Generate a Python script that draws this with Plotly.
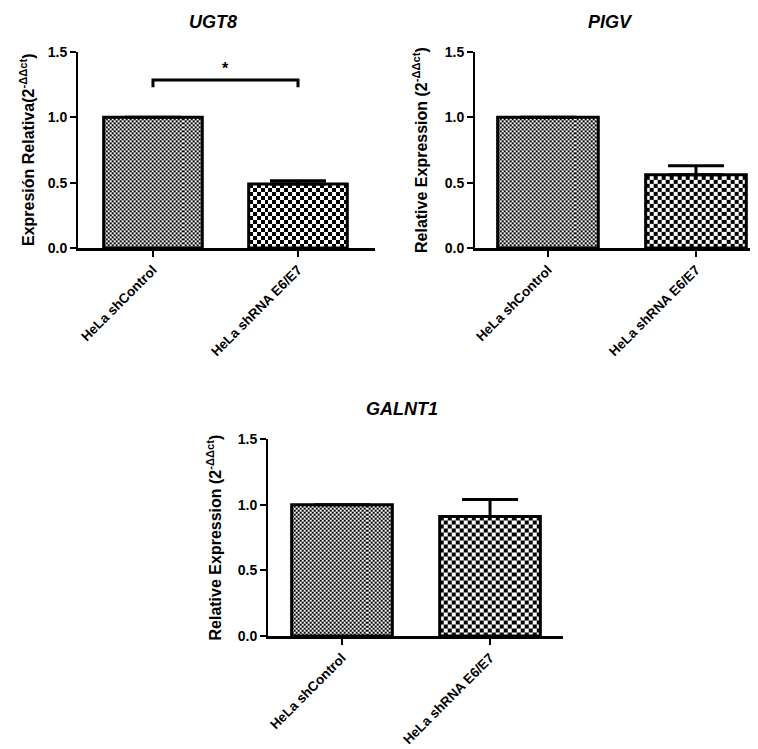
import numpy as np
import plotly.graph_objects as go

# page body has an 8px margin: figure is drawn at (8, 8) inside the 758x749 window
OFF = 8
W, H = 758 - OFF, 749 - OFF

# ---------------- data ----------------
categories = ["HeLa shControl", "HeLa shRNA E6/E7"]
genes = ["UGT8", "PIGV", "GALNT1"]
ugt8_mean = [1.00, 0.49]
ugt8_sem = [0.0, 0.025]
pigv_mean = [1.00, 0.56]
pigv_sem = [0.0, 0.07]
galnt1_mean = [1.00, 0.91]
galnt1_sem = [0.0, 0.13]
y_ticks = [0.0, 0.5, 1.0, 1.5]
y_titles = ["Expresión Relativa(2<sup>-ΔΔct</sup>)",
            "Relative Expression (2<sup>-ΔΔct</sup>)",
            "Relative Expression (2<sup>-ΔΔct</sup>)"]
sig_pair = [0, 1]        # UGT8: control vs shRNA
sig_level = 1.285
sig_drop = 0.055
sig_label = "*"

means = [ugt8_mean, pigv_mean, galnt1_mean]
sems = [ugt8_sem, pigv_sem, galnt1_sem]

# ---------------- layout geometry (window pixels) ----------------
panels = [
    dict(xpx=(78, 375), ypx=(52, 248), xr=(-0.517, 1.531), tpos=(213, 22), ytx=27),
    dict(xpx=(475, 758), ypx=(52, 248), xr=(-0.493, 1.419), tpos=(610, 22), ytx=420),
    dict(xpx=(268, 563), ypx=(439, 636), xr=(-0.5, 1.493), tpos=(402, 409), ytx=214),
]
BW = 0.68
YMAX = 1.5
cell_px = [2, 4]   # checker square size for each group
FONT = "Liberation Sans, Arial, sans-serif"


def px_x(v):
    return (v - OFF) / W


def px_y(v):
    return 1 - (v - OFF) / H


fig = go.Figure()
annotations = []
xpos = list(range(len(categories)))

for k, p in enumerate(panels):
    sfx = "" if k == 0 else str(k + 1)
    xa, ya = "x" + sfx, "y" + sfx
    ppu_x = (p["xpx"][1] - p["xpx"][0]) / (p["xr"][1] - p["xr"][0])
    ppu_y = (p["ypx"][1] - p["ypx"][0]) / YMAX

    # checkerboard fills
    for j, (c, v) in enumerate(zip(xpos, means[k])):
        dx = cell_px[j] / ppu_x
        dy = cell_px[j] / ppu_y
        ncols = int(round(BW / dx))
        x_edges = np.linspace(c - BW / 2, c + BW / 2, ncols + 1)
        y_edges = np.append(np.arange(0, v - dy * 0.3, dy), v)
        nrows = len(y_edges) - 1
        z = [[(r + q) % 2 for q in range(ncols)] for r in range(nrows)]
        fig.add_trace(go.Heatmap(x=x_edges, y=y_edges, z=z, zmin=0, zmax=1,
                                 colorscale=[[0, "#ffffff"], [1, "#000000"]],
                                 showscale=False, hoverinfo="skip",
                                 xaxis=xa, yaxis=ya))

    # bar outlines + error bars
    fig.add_trace(go.Bar(
        x=xpos, y=means[k], width=BW, xaxis=xa, yaxis=ya,
        marker=dict(color="rgba(0,0,0,0)", line=dict(color="black", width=3)),
        error_y=dict(type="data", array=sems[k], arrayminus=[0] * len(sems[k]),
                     symmetric=False, thickness=3, width=28, color="black"),
        hoverinfo="skip", showlegend=False))

    dom_x = [px_x(p["xpx"][0]), min(1.0, px_x(p["xpx"][1]))]
    dom_y = [px_y(p["ypx"][1]), px_y(p["ypx"][0])]
    fig.layout["xaxis" + sfx] = dict(
        domain=dom_x, range=list(p["xr"]), anchor=ya, automargin=False,
        tickmode="array", tickvals=xpos, ticktext=categories, tickangle=-45,
        tickfont=dict(family=FONT, size=13.5, color="black", weight="bold"),
        showline=True, linecolor="black", linewidth=2.5,
        ticks="outside", ticklen=6, tickwidth=2, tickcolor="black",
        showgrid=False, zeroline=False, fixedrange=True)
    fig.layout["yaxis" + sfx] = dict(
        domain=dom_y, range=[0, YMAX], anchor=xa, automargin=False,
        tickmode="array", tickvals=y_ticks, tickformat=".1f",
        tickfont=dict(family=FONT, size=14, color="black", weight="bold"),
        showline=True, linecolor="black", linewidth=2,
        ticks="outside", ticklen=6, tickwidth=2, tickcolor="black",
        showgrid=False, zeroline=False, fixedrange=True)

    annotations.append(dict(
        text=genes[k], xref="paper", yref="paper",
        x=px_x(p["tpos"][0]), y=px_y(p["tpos"][1]), xanchor="center", yanchor="middle",
        showarrow=False,
        font=dict(family=FONT, size=18, color="black", weight="bold", style="italic")))
    annotations.append(dict(
        text=y_titles[k], xref="paper", yref="paper", textangle=-90,
        x=px_x(p["ytx"]), y=(dom_y[0] + dom_y[1]) / 2, xanchor="center", yanchor="middle",
        showarrow=False,
        font=dict(family=FONT, size=16, color="black", weight="bold")))

# significance bracket on UGT8
fig.add_trace(go.Scatter(
    x=[sig_pair[0], sig_pair[0], sig_pair[1], sig_pair[1]],
    y=[sig_level - sig_drop, sig_level, sig_level, sig_level - sig_drop],
    mode="lines", line=dict(color="black", width=3), cliponaxis=False,
    hoverinfo="skip", showlegend=False, xaxis="x", yaxis="y"))
annotations.append(dict(
    text=sig_label, x=(sig_pair[0] + sig_pair[1]) / 2, y=sig_level, xref="x", yref="y",
    yanchor="bottom", yshift=1, showarrow=False,
    font=dict(family=FONT, size=16, color="black", weight="bold")))

fig.update_layout(
    template="none",
    width=W, height=H, margin=dict(l=0, r=0, t=0, b=0, autoexpand=False),
    paper_bgcolor="white", plot_bgcolor="white",
    showlegend=False, annotations=annotations, barmode="overlay")

fig.write_html("out.html", config={"displayModeBar": False})
